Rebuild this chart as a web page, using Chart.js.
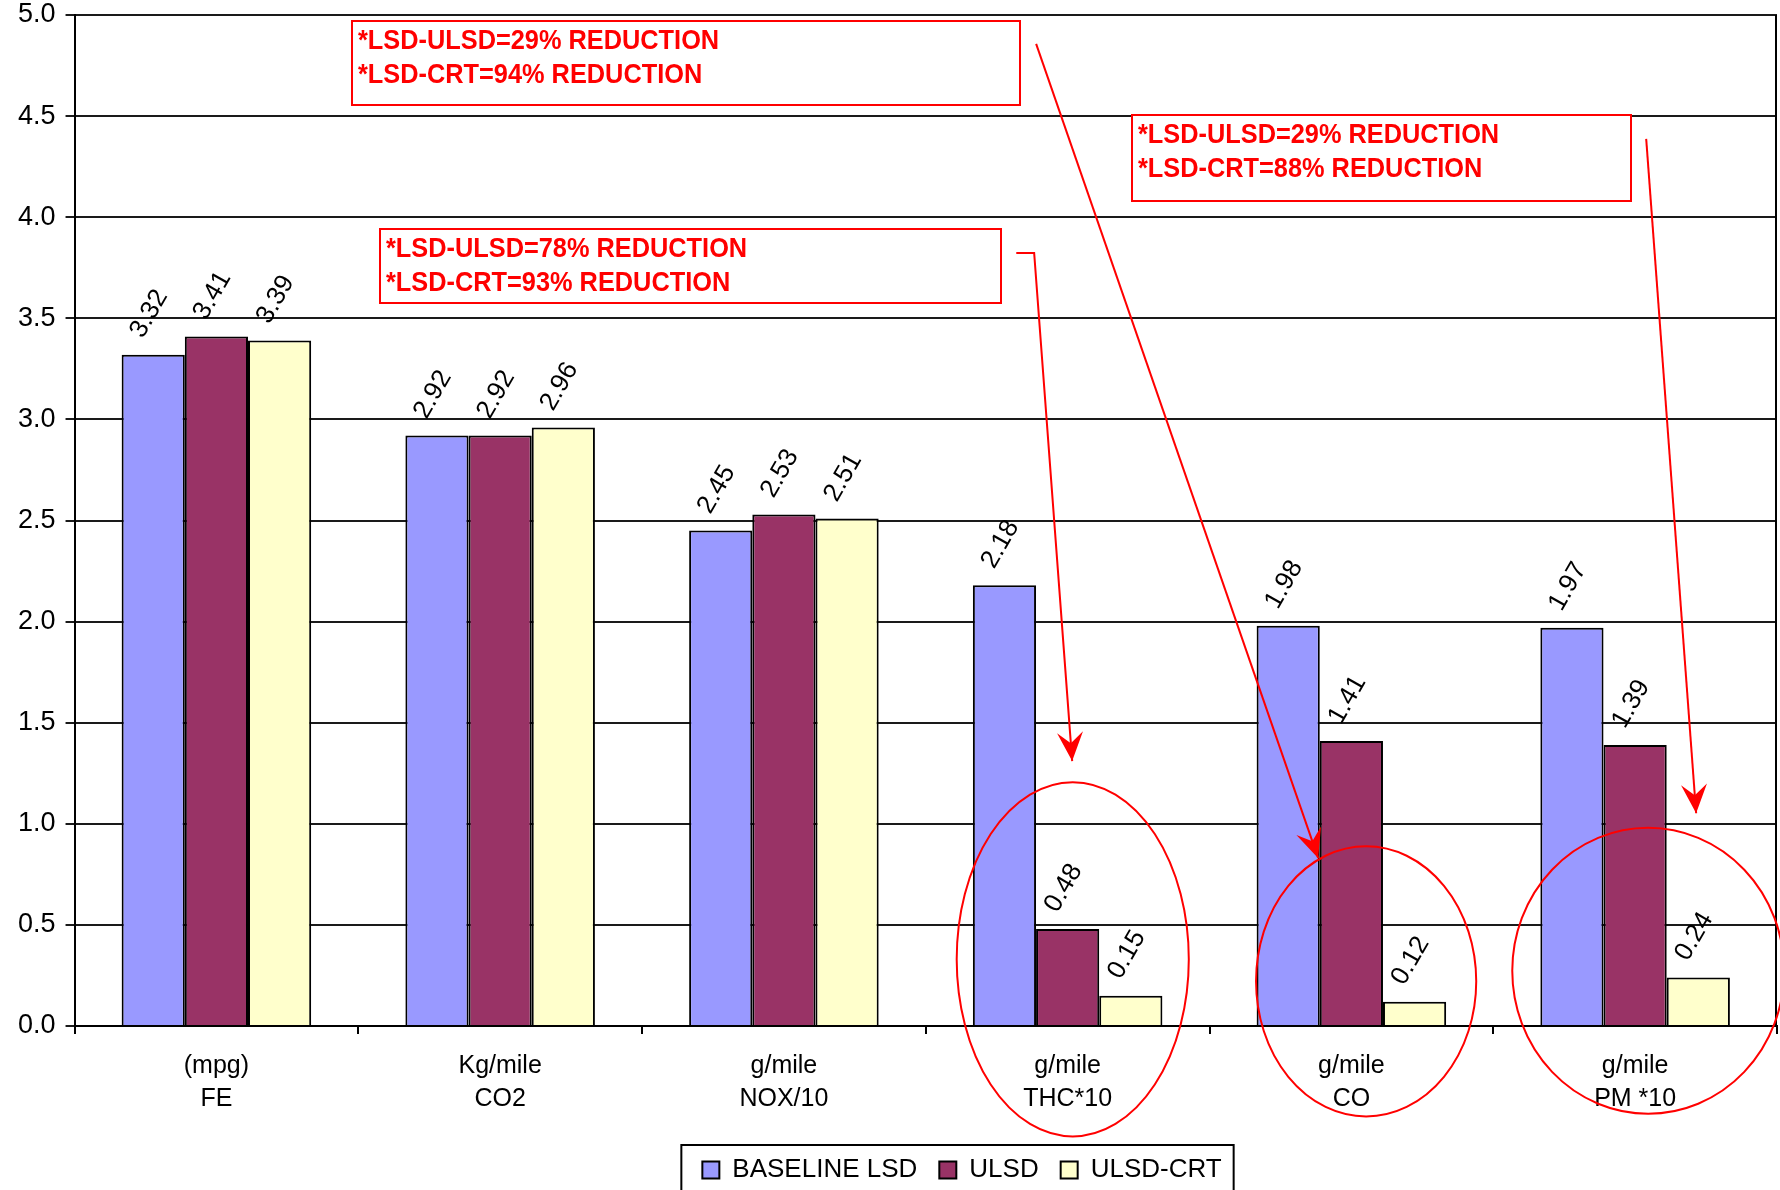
<!DOCTYPE html>
<html>
<head>
<meta charset="utf-8">
<script src="https://cdn.jsdelivr.net/npm/chart.js@4.4.0/dist/chart.umd.min.js"></script>
<style>
    html, body { margin: 0; padding: 0; background: #fff; }
    #wrap { width: 1780px; height: 1190px; }
</style>
</head>
<body>
<div id="wrap"><canvas id="emissions" width="1780" height="1190"></canvas></div>
<script>
// Fuel economy and emissions: baseline LSD vs ULSD vs ULSD with CRT filter

const categories = [
    ['(mpg)', 'FE'],
    ['Kg/mile', 'CO2'],
    ['g/mile', 'NOX/10'],
    ['g/mile', 'THC*10'],
    ['g/mile', 'CO'],
    ['g/mile', 'PM *10']
];

const baselineLsd = [3.32, 2.92, 2.45, 2.18, 1.98, 1.97];
const ulsd = [3.41, 2.92, 2.53, 0.48, 1.41, 1.39];
const ulsdCrt = [3.39, 2.96, 2.51, 0.15, 0.12, 0.24];

const seriesNames = ['BASELINE LSD', 'ULSD', 'ULSD-CRT'];
const seriesValues = [baselineLsd, ulsd, ulsdCrt];
const seriesColors = ['#9999ff', '#993366', '#ffffcc'];

const yTickValues = [0, 0.5, 1, 1.5, 2, 2.5, 3, 3.5, 4, 4.5, 5];

// Red call-outs, placed in axis units (category index, value)
const noteBoxes = [
    { lines: ['*LSD-ULSD=29% REDUCTION', '*LSD-CRT=94% REDUCTION'], x0: 0.479, x1: 2.833, top: 4.972, bottom: 4.555 },
    { lines: ['*LSD-ULSD=29% REDUCTION', '*LSD-CRT=88% REDUCTION'], x0: 3.228, x1: 4.986, top: 4.505, bottom: 4.080 },
    { lines: ['*LSD-ULSD=78% REDUCTION', '*LSD-CRT=93% REDUCTION'], x0: 0.575, x1: 2.766, top: 3.941, bottom: 3.575 }
];

const noteArrows = [
    [[2.819, 3.823], [2.882, 3.823], [3.016, 1.310]],
    [[2.889, 4.857], [3.883, 0.830]],
    [[5.039, 4.387], [5.215, 1.052]]
];

const noteRings = [
    { cx: 3.018, cy: 0.330, rx: 0.409, ry: 0.876 },
    { cx: 4.052, cy: 0.221, rx: 0.388, ry: 0.668 },
    { cx: 5.046, cy: 0.273, rx: 0.479, ry: 0.707 }
];

const RED = '#ff0000';
const FONT = '"Liberation Sans", Arial, sans-serif';

Chart.defaults.font.family = FONT;
Chart.defaults.color = '#000';

// right-hand edge of the plot area
const plotFrame = {
    id: 'plotFrame',
    beforeDatasetsDraw(chart) {
        const { ctx, chartArea: a } = chart;
        ctx.save();
        ctx.strokeStyle = '#000';
        ctx.lineWidth = 2;
        ctx.beginPath();
        ctx.moveTo(a.right - 1, a.top);
        ctx.lineTo(a.right - 1, a.bottom);
        ctx.stroke();
        ctx.restore();
    }
};

// rotated value labels above each bar
const valueLabels = {
    id: 'valueLabels',
    afterDatasetsDraw(chart) {
        const ctx = chart.ctx;
        ctx.save();
        ctx.font = '26px ' + FONT;
        ctx.fillStyle = '#000';
        ctx.textAlign = 'center';
        ctx.textBaseline = 'middle';
        chart.data.datasets.forEach((ds, i) => {
            chart.getDatasetMeta(i).data.forEach((bar, j) => {
                ctx.save();
                ctx.translate(bar.x - 4, bar.y - 41);
                ctx.rotate(-60 * Math.PI / 180);
                ctx.fillText(ds.data[j].toFixed(2), 0, 0);
                ctx.restore();
            });
        });
        ctx.restore();
    }
};

// legend sits a little right of centre
const legendShift = {
    id: 'legendShift',
    afterLayout(chart) {
        const lg = chart.legend;
        const dx = 962 - (lg.left + lg.right) / 2;
        lg.left += dx;
        lg.right += dx;
    }
};

// border round the legend
const legendFrame = {
    id: 'legendFrame',
    afterDraw(chart) {
        const boxes = chart.legend.legendHitBoxes;
        if (!boxes || !boxes.length) return;
        const first = boxes[0];
        const last = boxes[boxes.length - 1];
        const ctx = chart.ctx;
        const left = first.left - 21;
        const right = last.left + last.width + 12;
        const top = first.top - 12;
        ctx.save();
        ctx.strokeStyle = '#000';
        ctx.lineWidth = 2;
        ctx.strokeRect(left, top, right - left, chart.height - top + 10);
        ctx.restore();
    }
};

function drawArrowHead(ctx, tx, ty, fx, fy) {
    const ang = Math.atan2(ty - fy, tx - fx);
    ctx.save();
    ctx.translate(tx, ty);
    ctx.rotate(ang);
    ctx.beginPath();
    ctx.moveTo(0, 0);
    ctx.lineTo(-29, -13);
    ctx.lineTo(-18, 0);
    ctx.lineTo(-29, 13);
    ctx.closePath();
    ctx.fill();
    ctx.restore();
}

const callouts = {
    id: 'callouts',
    afterDraw(chart) {
        const { ctx, scales: { x, y } } = chart;
        const px = v => x.getPixelForValue(v);
        const py = v => y.getPixelForValue(v);
        ctx.save();
        ctx.strokeStyle = RED;
        ctx.lineWidth = 2;

        noteRings.forEach(r => {
            const cx = px(r.cx);
            const cy = py(r.cy);
            const rx = px(r.cx + r.rx) - cx;
            const ry = cy - py(r.cy + r.ry);
            ctx.beginPath();
            ctx.ellipse(cx, cy, rx, ry, 0, 0, Math.PI * 2);
            ctx.stroke();
        });

        noteBoxes.forEach(b => {
            const l = Math.round(px(b.x0));
            const r = Math.round(px(b.x1));
            const t = Math.round(py(b.top));
            const bt = Math.round(py(b.bottom));
            ctx.fillStyle = '#fff';
            ctx.fillRect(l, t, r - l, bt - t);
            ctx.strokeRect(l, t, r - l, bt - t);
            ctx.fillStyle = RED;
            ctx.font = 'bold 28px ' + FONT;
            ctx.textAlign = 'left';
            ctx.textBaseline = 'middle';
            b.lines.forEach((s, k) => {
                ctx.save();
                ctx.translate(l + 6, t + 20 + k * 34);
                ctx.scale(0.905, 1);
                ctx.fillText(s, 0, 0);
                ctx.restore();
            });
        });

        ctx.fillStyle = RED;
        noteArrows.forEach(path => {
            const pts = path.map(p => [px(p[0]), py(p[1])]);
            ctx.beginPath();
            pts.forEach((p, i) => (i ? ctx.lineTo(p[0], p[1]) : ctx.moveTo(p[0], p[1])));
            ctx.stroke();
            const tip = pts[pts.length - 1];
            const from = pts[pts.length - 2];
            drawArrowHead(ctx, tip[0], tip[1], from[0], from[1]);
        });
        ctx.restore();
    }
};

const ctx = document.getElementById('emissions').getContext('2d');

new Chart(ctx, {
    type: 'bar',
    data: {
        labels: categories,
        datasets: seriesNames.map((name, i) => ({
            label: name,
            data: seriesValues[i],
            backgroundColor: seriesColors[i],
            borderColor: '#000',
            borderWidth: 2,
            categoryPercentage: 0.668,
            barPercentage: 1
        }))
    },
    options: {
        responsive: false,
        animation: false,
        devicePixelRatio: 1,
        layout: {
            padding: { left: 8, right: 3, top: 0, bottom: -3 }
        },
        plugins: {
            legend: {
                position: 'bottom',
                labels: {
                    font: { size: 26 },
                    color: '#000',
                    boxWidth: 17,
                    boxHeight: 17,
                    padding: 22
                }
            },
            title: { display: false },
            tooltip: { enabled: false }
        },
        scales: {
            x: {
                grid: {
                    offset: true,
                    drawOnChartArea: false,
                    drawTicks: true,
                    tickLength: 8,
                    color: '#000',
                    lineWidth: 2
                },
                border: { color: '#000', width: 2 },
                ticks: {
                    font: { size: 25, lineHeight: 1.3 },
                    color: '#000',
                    padding: 16,
                    maxRotation: 0,
                    autoSkip: false
                },
                afterFit(axis) {
                    axis.height = 109;
                }
            },
            y: {
                min: 0,
                max: 5,
                afterBuildTicks(axis) {
                    axis.ticks = yTickValues.map(v => ({ value: v }));
                },
                afterFit(axis) {
                    axis.paddingTop = 15;
                },
                grid: {
                    color: '#1a1a1a',
                    lineWidth: 2,
                    tickLength: 9
                },
                border: { color: '#000', width: 2 },
                ticks: {
                    font: { size: 27 },
                    color: '#000',
                    padding: 10,
                    callback: v => Number(v).toFixed(1)
                }
            }
        }
    },
    plugins: [plotFrame, valueLabels, legendShift, legendFrame, callouts]
});
</script>
</body>
</html>
